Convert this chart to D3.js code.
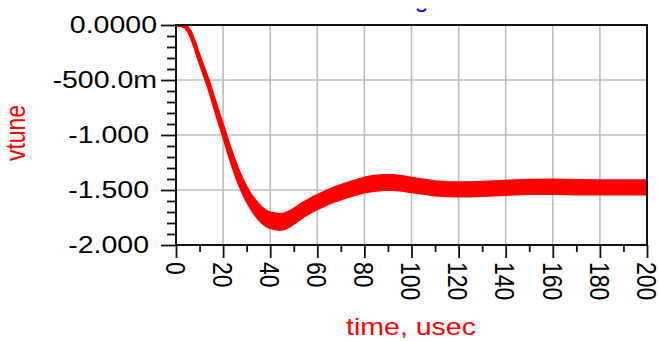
<!DOCTYPE html>
<html>
<head>
<meta charset="utf-8">
<script src="https://cdn.jsdelivr.net/npm/d3@7"></script>
<style>
    body { margin: 0; background: #fff; }
    svg { display: block; }
    text { font-family: "Liberation Sans", Arial, sans-serif; }
</style>
</head>
<body>
<div class="main"></div>
<script>
// time axis (usec) and vtune (V)
var timeUs = [0, 2, 4, 6, 8, 10, 12, 14, 16, 18, 20,
    22, 24, 26, 28, 30, 32, 34, 36, 38, 40,
    42, 44, 46, 48, 50, 52, 54, 56, 58, 60,
    64, 68, 72, 76, 80, 84, 88, 92, 96, 100,
    105, 110, 115, 120, 125, 130, 135, 140,
    150, 160, 170, 180, 190, 200];
var vtune = [0, 0, -0.01, -0.07, -0.18, -0.31, -0.43, -0.55, -0.69, -0.83, -0.96,
    -1.10, -1.23, -1.35, -1.45, -1.54, -1.61, -1.67, -1.72, -1.755, -1.775,
    -1.785, -1.79, -1.785, -1.765, -1.74, -1.71, -1.68, -1.655, -1.63, -1.61,
    -1.57, -1.535, -1.505, -1.48, -1.455, -1.44, -1.432, -1.432, -1.44, -1.455,
    -1.47, -1.485, -1.492, -1.495, -1.495, -1.49, -1.485, -1.48,
    -1.472, -1.47, -1.475, -1.477, -1.477, -1.477];
// half peak-to-peak of the ripple band (V)
var ripple = [0.003, 0.003, 0.007, 0.012, 0.016, 0.019, 0.022, 0.024, 0.027, 0.03, 0.034,
    0.038, 0.042, 0.046, 0.05, 0.053, 0.056, 0.059, 0.061, 0.063, 0.065,
    0.066, 0.066, 0.065, 0.063, 0.061, 0.06, 0.059, 0.058, 0.058, 0.058,
    0.058, 0.058, 0.059, 0.06, 0.061, 0.062, 0.062, 0.062, 0.06, 0.059,
    0.058, 0.058, 0.058, 0.058, 0.058, 0.058, 0.058, 0.058,
    0.058, 0.058, 0.058, 0.058, 0.058, 0.058];

var xTicks = [0, 20, 40, 60, 80, 100, 120, 140, 160, 180, 200],
    yTicks = [0, -0.5, -1, -1.5, -2],
    yTickLabels = ["0.0000", "-500.0m", "-1.000\u00a0", "-1.500\u00a0", "-2.000\u00a0"];

var canvas = { width: 660, height: 341 },
    plot = { left: 176, right: 647, top: 25, bottom: 245 },
    stretch = 1.24, // text in the picture is wider than tall
    fontSize = 23,
    red = "#ff0000";

var svg = d3.select(".main").append("svg")
    .attr("width", canvas.width)
    .attr("height", canvas.height);

var x = d3.scaleLinear().domain([0, 200]).range([plot.left, plot.right]),
    y = d3.scaleLinear().domain([-2, 0]).range([plot.bottom, plot.top]);

// grid
svg.append("g").selectAll("line")
    .data(xTicks.slice(1, -1)).enter()
    .append("line")
    .attr("x1", function(d) { return x(d); })
    .attr("x2", function(d) { return x(d); })
    .attr("y1", plot.top)
    .attr("y2", plot.bottom)
    .attr("stroke", "#bdbdbd")
    .attr("stroke-width", 1.6);
svg.append("g").selectAll("line")
    .data(yTicks.slice(1, -1)).enter()
    .append("line")
    .attr("x1", plot.left)
    .attr("x2", plot.right)
    .attr("y1", function(d) { return y(d); })
    .attr("y2", function(d) { return y(d); })
    .attr("stroke", "#bdbdbd")
    .attr("stroke-width", 1.6);

// trace
svg.append("clipPath").attr("id", "clip")
    .append("rect")
    .attr("x", plot.left).attr("y", plot.top)
    .attr("width", plot.right - plot.left)
    .attr("height", plot.bottom - plot.top);

var band = d3.area()
    .x(function(d, i) { return x(timeUs[i]); })
    .y0(function(d, i) { return y(vtune[i] - ripple[i]); })
    .y1(function(d, i) { return y(vtune[i] + ripple[i]); });

svg.append("path")
    .datum(vtune)
    .attr("clip-path", "url(#clip)")
    .attr("d", band)
    .attr("fill", red)
    .attr("stroke", red)
    .attr("stroke-width", 3.5)
    .attr("stroke-linejoin", "round");

// axes
var xAxis = d3.axisBottom(x)
    .tickValues(d3.range(0, 201, 10))
    .tickSize(0)
    .tickFormat("");
var gx = svg.append("g")
    .attr("transform", "translate(0," + plot.bottom + ")")
    .call(xAxis);
gx.selectAll(".tick line")
    .attr("stroke", "#111")
    .attr("stroke-width", 1.8)
    .attr("y2", function(d) { return d % 20 === 0 ? 13 : 7; });
gx.select(".domain").remove();

var yAxis = d3.axisLeft(y)
    .tickValues(d3.range(0, 21).map(function(i) { return -i * 0.1; }))
    .tickSize(0)
    .tickFormat("");
var gy = svg.append("g")
    .attr("transform", "translate(" + plot.left + ",0)")
    .call(yAxis);
gy.selectAll(".tick line")
    .attr("stroke", "#111")
    .attr("stroke-width", 1.8)
    .attr("x2", function(d, i) { return i % 5 === 0 ? -15 : -9; });
gy.select(".domain").remove();

svg.append("rect")
    .attr("x", plot.left)
    .attr("y", plot.top)
    .attr("width", plot.right - plot.left)
    .attr("height", plot.bottom - plot.top)
    .attr("fill", "none")
    .attr("stroke", "#111")
    .attr("stroke-width", 2);

// tick labels
svg.append("g").selectAll("text")
    .data(xTicks).enter()
    .append("text")
    .attr("transform", function(d) {
        return "translate(" + x(d) + ",262) scale(" + stretch + ",1) rotate(90)";
    })
    .attr("dy", "0.36em")
    .attr("font-size", fontSize)
    .attr("fill", "#000")
    .text(function(d) { return d; });

svg.append("g").selectAll("text")
    .data(yTicks).enter()
    .append("text")
    .attr("transform", function(d) {
        return "translate(157," + y(d) + ") scale(" + stretch + ",1)";
    })
    .attr("dy", "0.36em")
    .attr("text-anchor", "end")
    .attr("font-size", fontSize)
    .attr("fill", "#000")
    .text(function(d, i) { return yTickLabels[i]; });

// titles
svg.append("text")
    .attr("transform", "translate(411,335) scale(" + stretch + ",1)")
    .attr("text-anchor", "middle")
    .attr("font-size", fontSize)
    .attr("fill", red)
    .text("time, usec");

svg.append("text")
    .attr("transform", "translate(25,133) scale(" + stretch + ",1) rotate(-90)")
    .attr("text-anchor", "middle")
    .attr("font-size", fontSize)
    .attr("fill", red)
    .text("vtune");

// clipped blue legend mark at the top
svg.append("path")
    .attr("d", "M417,9 Q421.5,13.5 426,9")
    .attr("fill", "none")
    .attr("stroke", "#0000ff")
    .attr("stroke-width", 2);
</script>
</body>
</html>
